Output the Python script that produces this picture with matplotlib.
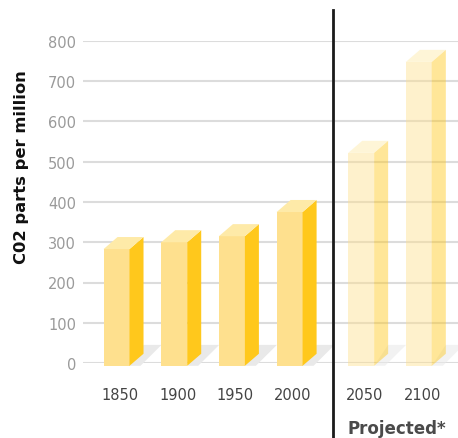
import numpy as np
import matplotlib.pyplot as plt
from matplotlib.patches import Polygon

# CO2 concentration, historical and projected
years = ['1850', '1900', '1950', '2000', '2050', '2100']
ppm = [283, 300, 315, 375, 522, 748]
projected = [False, False, False, False, True, True]
xpos = [0, 1, 2, 3, 4.24, 5.24]
yticks = [0, 100, 200, 300, 400, 500, 600, 700, 800]

# bar geometry (data units)
w = 0.45       # front face width
dx = 0.243     # depth offset in x
dy = 30        # depth offset in ppm
base = -7

front_c = '#fee08e'
side_c = '#ffc81c'
top_c = '#feeaa8'
shadow_c = '#e9e9e9'

fig = plt.figure(figsize=(4.58, 4.39), dpi=100)
ax = fig.add_axes([83 / 458, 75 / 439, 375 / 458, 322 / 439])
ax.set_xlim(-0.581, 5.919)
ax.set_ylim(0, 800)

for s in ax.spines.values():
    s.set_visible(False)
ax.set_yticks(yticks)
ax.yaxis.grid(True, color='#dcdcdc', lw=1.5)
ax.set_axisbelow(True)
ax.tick_params(axis='y', length=0, pad=5, labelsize=10.5, labelcolor='#9a9a9a')
ax.set_xticks([x + 0.06 for x in xpos])
ax.set_xticklabels(years)
ax.tick_params(axis='x', length=0, pad=17, labelsize=10.5, labelcolor='#444444')

for x, v, proj in zip(xpos, ppm, projected):
    a = 0.45 if proj else 1.0
    xl, xr = x - w / 2, x + w / 2
    # floor shadow
    ax.add_patch(Polygon([(xr, base), (xr + dx, base + 52), (xr + 0.555, base + 52),
                          (xr + 0.19, base)], closed=True, fc=shadow_c, ec='none',
                         alpha=0.55 if proj else 1.0, zorder=2, clip_on=False))
    # front face
    ax.add_patch(Polygon([(xl, base), (xr, base), (xr, v), (xl, v)], closed=True,
                         fc=front_c, ec='none', alpha=a, zorder=3, clip_on=False))
    # side face
    ax.add_patch(Polygon([(xr, base), (xr + dx, base + dy), (xr + dx, v + dy), (xr, v)],
                         closed=True, fc=side_c, ec='none', alpha=a, zorder=3, clip_on=False))
    # top face
    ax.add_patch(Polygon([(xl, v), (xr, v), (xr + dx, v + dy), (xl + dx, v + dy)],
                         closed=True, fc=top_c, ec='none', alpha=a, zorder=3, clip_on=False))

# divider between measured and projected values
ax.plot([3.752, 3.752], [-190, 877], color='#1a1a1a', lw=2, clip_on=False, zorder=5)

fig.text(22 / 458, 1 - 167 / 439, 'C02 parts per million', rotation=90,
         ha='center', va='center', fontsize=11.8, fontweight='bold', color='#111111')
fig.text(397 / 458, 1 - 429 / 439, 'Projected*', ha='center', va='center',
         fontsize=12, fontweight='bold', color='#4a4a4a')

fig.savefig('out.png', dpi=100)
